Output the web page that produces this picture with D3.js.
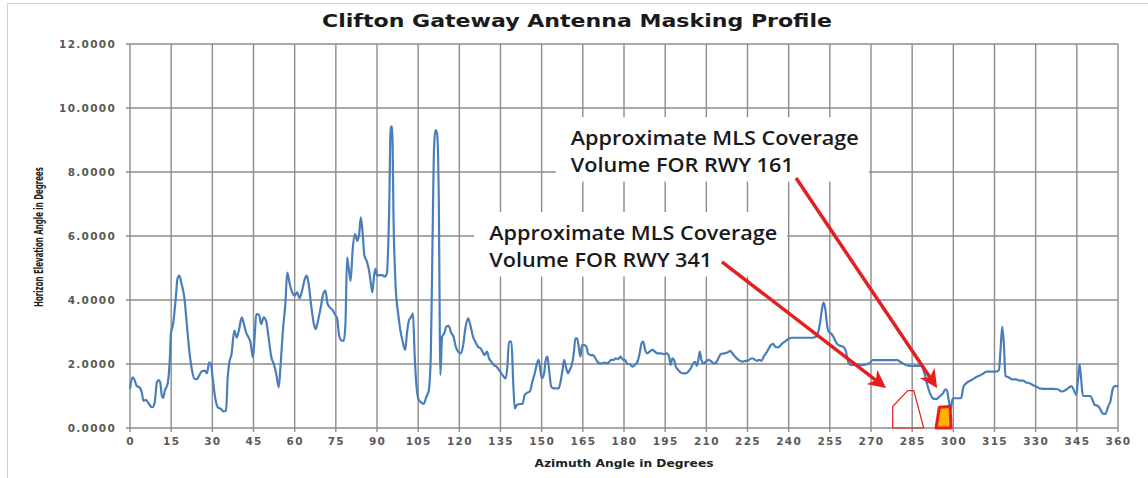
<!DOCTYPE html>
<html>
<head>
<meta charset="utf-8">
<script src="https://cdn.jsdelivr.net/npm/d3@7"></script>
<style>
  html, body { margin: 0; padding: 0; background: #fff; }
  figure { margin: 0; }
  svg { display: block; }
</style>
</head>
<body>
<figure id="masking"></figure>
<script>
// horizon profile, azimuth (deg) vs elevation (deg)
const azimuth = [
  0, 0.9, 1.5, 2.4, 3.7, 4.3, 4.9, 5.7, 6.6, 7.6, 8.2, 9.0, 9.8, 10.4, 11.0, 11.6, 12.1, 12.7, 13.7, 14.6,
  14.9, 15.7, 16.7, 17.3, 18.0, 18.8, 19.8, 20.7, 21.6, 22.4, 23.4, 24.4, 25.2, 26.2, 27.3, 28.0, 28.9, 29.5, 30.1, 31.0,
  32.0, 33.2, 34.0, 35.0, 35.6, 36.2, 37.0, 38.0, 38.9, 39.9, 40.7, 41.5, 42.3, 43.2, 43.9, 44.8, 45.4, 46.0, 47.0, 47.8,
  48.7, 49.6, 50.5, 51.5, 52.4, 53.3, 54.2, 54.9, 55.7, 56.6, 57.3, 58.2, 59.1, 60.0, 60.9, 61.8, 62.7, 63.7, 64.4, 65.1,
  66.1, 67.0, 67.6, 68.5, 69.5, 70.4, 71.2, 72.0, 72.8, 73.8, 74.6, 75.5, 76.2, 77.1, 77.9, 78.5, 79.1, 79.8, 80.4, 81.1,
  82.0, 82.8, 83.5, 84.1, 84.8, 85.4, 86.2, 87.1, 87.8, 88.3, 89.0, 89.5, 90.0, 91.0, 91.9, 92.8, 93.6, 94.4, 95.0, 95.5,
  96.1, 96.8, 97.7, 98.5, 99.5, 100.3, 100.9, 101.7, 102.5, 103.1, 103.7, 104.3, 105.2, 106.2, 107.0, 108.0, 108.8, 109.6, 110.2, 110.8,
  111.3, 111.9, 112.5, 113.1, 113.7, 114.5, 115.3, 116.1, 117.1, 117.9, 118.7, 119.5, 120.4, 121.3, 122.3, 123.2, 124.0, 125.0, 125.8, 126.8,
  127.7, 128.4, 129.2, 130.1, 130.8, 131.7, 132.5, 133.5, 134.5, 135.3, 136.2, 136.9, 137.5, 138.1, 139.0, 139.6, 140.2, 141.0, 142.0, 143.0,
  143.8, 144.7, 145.7, 146.6, 147.5, 148.3, 148.9, 149.5, 150.1, 150.9, 151.5, 152.1, 152.7, 153.5, 154.4, 155.4, 156.2, 157.0, 157.6, 158.2,
  158.8, 159.6, 160.2, 160.8, 161.7, 162.3, 162.9, 163.5, 164.1, 164.7, 165.5, 166.3, 166.9, 167.8, 168.7, 169.6, 170.3, 171.2, 172.0, 173.0,
  173.8, 174.6, 175.4, 176.3, 177.0, 177.9, 178.7, 179.7, 180.4, 181.2, 182.1, 183.0, 184.0, 184.9, 185.7, 186.4, 187.0, 187.7, 188.5, 189.4,
  190.3, 191.2, 192.2, 193.4, 194.6, 195.6, 196.4, 197.0, 197.6, 198.2, 198.9, 199.8, 200.7, 201.5, 202.5, 203.4, 204.3, 205.2, 205.9, 206.5,
  207.1, 207.6, 208.2, 209.0, 209.8, 210.8, 211.6, 212.6, 213.5, 214.4, 215.3, 216.5, 217.7, 218.7, 219.5, 220.5, 221.4, 222.2, 223.2, 224.2,
  225.0, 226.0, 226.8, 227.7, 228.4, 229.3, 230.1, 230.9, 231.7, 232.6, 233.5, 234.4, 235.1, 236.0, 236.8, 237.8, 238.6, 239.4, 240.2, 241.4,
  244.0, 248.7, 250.0, 250.8, 251.5, 252.1, 252.7, 253.4, 253.9, 254.6, 255.4, 256.3, 257.3, 258.2, 259.1, 259.9, 260.7, 261.3, 261.9, 262.7,
  266.4, 269.4, 270.6, 279.7, 280.6, 281.6, 282.8, 284.6, 288.2, 289.5, 290.5, 291.5, 292.5, 293.7, 294.9, 296.2, 297.1, 297.7, 298.3, 299.0,
  299.6, 300.0, 302.8, 303.7, 304.7, 305.9, 307.1, 308.1, 309.3, 310.8, 312.0, 315.6, 316.6, 317.2, 317.8, 318.4, 319.0, 320.3, 321.5, 322.9,
  324.1, 325.4, 326.6, 327.8, 329.0, 330.3, 331.4, 333.9, 336.3, 338.1, 339.4, 340.6, 341.8, 343.0, 343.9, 344.8, 345.4, 346.0, 346.6, 347.2,
  349.9, 350.7, 351.5, 352.7, 353.7, 354.6, 355.4, 356.4, 357.2, 358.0, 358.8, 360.0
];
const elevation = [
  1.22, 1.58, 1.53, 1.32, 1.25, 1.11, 0.85, 0.88, 0.80, 0.67, 0.65, 0.80, 1.43, 1.50, 1.43, 1.01, 0.94, 1.17, 1.38, 2.31,
  2.94, 3.25, 4.08, 4.66, 4.76, 4.50, 4.08, 3.25, 2.42, 1.90, 1.55, 1.53, 1.64, 1.77, 1.79, 1.71, 2.05, 2.00, 1.58, 0.96,
  0.65, 0.59, 0.52, 0.54, 1.58, 2.05, 2.31, 3.04, 2.83, 3.15, 3.46, 3.25, 2.99, 2.83, 2.68, 2.21, 2.83, 3.56, 3.54, 3.25,
  3.46, 3.35, 2.83, 2.21, 2.00, 1.69, 1.27, 2.00, 3.04, 3.88, 4.86, 4.50, 4.24, 4.14, 4.24, 4.06, 4.29, 4.66, 4.76, 4.50,
  3.77, 3.25, 3.09, 3.35, 3.77, 4.19, 4.29, 3.88, 3.77, 3.69, 3.56, 3.41, 2.89, 2.73, 2.73, 3.25, 5.33, 4.92, 4.60, 5.54,
  6.06, 5.85, 6.06, 6.58, 6.06, 5.39, 5.23, 4.92, 4.50, 4.24, 4.81, 4.97, 4.76, 4.78, 4.78, 4.73, 4.83, 6.70, 9.42, 9.42,
  6.19, 4.42, 3.58, 3.06, 2.65, 2.44, 2.96, 3.38, 3.48, 3.58, 2.33, 1.40, 0.88, 0.79, 0.75, 0.98, 1.14, 2.23, 5.67, 8.79,
  9.31, 9.21, 7.23, 1.66, 2.85, 2.96, 3.17, 3.19, 2.96, 2.85, 2.54, 2.39, 2.33, 2.54, 3.17, 3.43, 3.22, 2.85, 2.70, 2.54,
  2.49, 2.39, 2.28, 2.39, 2.18, 2.07, 1.97, 1.92, 1.81, 1.71, 1.60, 1.55, 1.92, 2.70, 2.70, 1.50, 0.61, 0.72, 0.75, 0.75,
  1.03, 1.10, 1.14, 1.45, 1.71, 2.02, 2.13, 1.81, 1.55, 1.71, 2.13, 2.23, 1.81, 1.29, 1.24, 1.24, 1.24, 1.50, 1.81, 2.13,
  1.92, 1.71, 1.81, 1.92, 2.33, 2.80, 2.80, 2.54, 2.23, 2.59, 2.59, 2.54, 2.33, 2.28, 2.28, 2.18, 2.07, 2.02, 2.02, 2.04,
  2.02, 2.07, 2.13, 2.13, 2.18, 2.15, 2.23, 2.13, 2.13, 2.00, 2.00, 1.92, 1.97, 2.07, 2.33, 2.65, 2.70, 2.44, 2.33, 2.39,
  2.44, 2.39, 2.33, 2.33, 2.31, 2.33, 2.23, 1.97, 2.18, 2.13, 1.92, 1.81, 1.73, 1.71, 1.71, 1.76, 1.86, 2.02, 2.07, 1.94,
  2.13, 2.39, 2.13, 2.02, 2.07, 2.13, 2.10, 2.02, 2.04, 2.18, 2.31, 2.33, 2.36, 2.41, 2.33, 2.23, 2.15, 2.10, 2.07, 2.10,
  2.10, 2.16, 2.18, 2.13, 2.10, 2.13, 2.10, 2.23, 2.33, 2.46, 2.59, 2.63, 2.54, 2.52, 2.56, 2.65, 2.70, 2.75, 2.80, 2.82,
  2.82, 2.82, 2.85, 3.01, 3.32, 3.69, 3.92, 3.69, 3.27, 3.01, 2.96, 2.85, 2.67, 2.59, 2.56, 2.54, 2.44, 2.23, 2.02, 1.97,
  1.97, 2.02, 2.12, 2.12, 2.07, 2.02, 1.97, 1.94, 1.94, 1.70, 1.35, 1.08, 0.93, 0.90, 0.98, 1.08, 1.21, 1.17, 0.88, 0.56,
  0.88, 0.93, 0.93, 1.29, 1.40, 1.47, 1.52, 1.58, 1.63, 1.69, 1.76, 1.76, 1.81, 2.44, 3.17, 2.65, 1.63, 1.58, 1.52, 1.52,
  1.48, 1.48, 1.42, 1.40, 1.34, 1.29, 1.24, 1.22, 1.22, 1.21, 1.14, 1.17, 1.24, 1.31, 1.19, 1.03, 1.50, 2.00, 1.50, 1.00,
  1.00, 0.88, 0.72, 0.69, 0.56, 0.44, 0.44, 0.67, 0.82, 1.19, 1.31, 1.31
];

const xTickValues = [0, 15, 30, 45, 60, 75, 90, 105, 120, 135, 150, 165, 180, 195, 210, 225, 240, 255, 270, 285, 300, 315, 330, 345, 360];
const yTickValues = [0, 2, 4, 6, 8, 10, 12];

// approximate MLS coverage volumes as [azimuth, elevation] outlines
const rwy341Volume = [[277.9, 0], [277.9, 0.67], [283.4, 1.17], [285.6, 1.17], [289.2, 0]];
const rwy161Volume = [[293.7, 0], [294.9, 0.65], [298.8, 0.67], [299.2, 0]];

// callouts: text, text anchor and arrow, all in azimuth/elevation units
const calloutText = [
  ["Approximate MLS Coverage", "Volume FOR RWY 161"],
  ["Approximate MLS Coverage", "Volume FOR RWY 341"]
];
const calloutAnchor = [[160.6, 8.84], [130.9, 5.875]];
const arrowFrom = [[242.7, 7.81], [215.7, 5.19]];
const arrowTo = [[294.1, 1.25], [275.5, 1.25]];

class MaskingChart {
  constructor() {
    this.width = 1148;
    this.height = 478;
    this.margin = { top: 44, right: 30, bottom: 50, left: 130 };
    this.gridColor = "#8c8c8c";
    this.lineColor = "#4a7ebb";
    this.red = "#e51f1f";
    this.labelColor = "#595959";
  }

  init() {
    this.svg = d3.select("figure#masking").append("svg")
      .attr("width", this.width)
      .attr("height", this.height);
    this.x = d3.scaleLinear()
      .domain([0, 360])
      .range([this.margin.left, this.width - this.margin.right]);
    this.y = d3.scaleLinear()
      .domain([0, 12])
      .range([this.height - this.margin.bottom, this.margin.top]);
  }

  draw() {
    this.drawFrame();
    this.drawGrid();
    this.drawAxes();
    this.drawCallouts();
    this.drawProfile();
    this.drawVolumes();
    this.drawArrows();
  }

  drawFrame() {
    // only the top and left edge of the chart border are inside the picture
    this.svg.append("rect")
      .attr("x", 7.5).attr("y", 3.5)
      .attr("width", this.width + 20).attr("height", this.height + 20)
      .attr("fill", "none")
      .attr("stroke", "#d4d4d4");

    this.svg.append("text")
      .attr("x", 577)
      .attr("y", 27)
      .attr("text-anchor", "middle")
      .attr("textLength", 510)
      .attr("lengthAdjust", "spacingAndGlyphs")
      .style("font-family", "'DejaVu Sans', Verdana, sans-serif")
      .style("font-weight", "bold")
      .style("font-size", "17px")
      .attr("fill", "#1a1a1a")
      .text("Clifton Gateway Antenna Masking Profile");
  }

  drawGrid() {
    const [x0, x1] = this.x.range();
    const [yb, yt] = this.y.range();
    const g = this.svg.append("g").attr("class", "grid");
    g.selectAll("line.v")
      .data(xTickValues).enter()
      .append("line")
      .attr("x1", (d) => this.x(d)).attr("x2", (d) => this.x(d))
      .attr("y1", yt).attr("y2", yb + 4)
      .attr("stroke", this.gridColor)
      .attr("stroke-width", 1.4);
    g.selectAll("line.h")
      .data(yTickValues).enter()
      .append("line")
      .attr("x1", x0 - 4).attr("x2", x1)
      .attr("y1", (d) => this.y(d)).attr("y2", (d) => this.y(d))
      .attr("stroke", this.gridColor)
      .attr("stroke-width", 1.4);
  }

  drawAxes() {
    const xAxis = d3.axisBottom(this.x)
      .tickValues(xTickValues)
      .tickSize(0)
      .tickPadding(10);
    const yAxis = d3.axisLeft(this.y)
      .tickValues(yTickValues)
      .tickFormat(d3.format(".4f"))
      .tickSize(0)
      .tickPadding(14);

    const gx = this.svg.append("g")
      .attr("transform", `translate(0,${this.y(0)})`)
      .call(xAxis);
    const gy = this.svg.append("g")
      .attr("transform", `translate(${this.x(0)},0)`)
      .call(yAxis);

    [gx, gy].forEach((g) => {
      g.select(".domain").remove();
      g.selectAll("text")
        .attr("fill", this.labelColor)
        .style("font-family", "'DejaVu Sans', Verdana, sans-serif")
        .style("font-weight", "bold")
        .style("font-size", "10.5px")
        .style("letter-spacing", "1.3px");
    });

    this.svg.append("text")
      .attr("x", (this.x(0) + this.x(360)) / 2)
      .attr("y", 467)
      .attr("text-anchor", "middle")
      .attr("textLength", 179)
      .attr("lengthAdjust", "spacingAndGlyphs")
      .style("font-family", "'DejaVu Sans Condensed', 'DejaVu Sans', sans-serif")
      .style("font-weight", "bold")
      .style("font-size", "11px")
      .attr("fill", "#222")
      .text("Azimuth Angle in Degrees");

    this.svg.append("text")
      .attr("transform", "translate(43,237) rotate(-90)")
      .attr("text-anchor", "middle")
      .attr("textLength", 140)
      .attr("lengthAdjust", "spacingAndGlyphs")
      .style("font-family", "'DejaVu Sans Condensed', 'DejaVu Sans', sans-serif")
      .style("font-weight", "bold")
      .style("font-size", "11.5px")
      .attr("fill", "#222")
      .text("Horizon Elevation Angle in Degrees");
  }

  drawCallouts() {
    calloutText.forEach((lines, i) => {
      const g = this.svg.append("g");
      const [az, el] = calloutAnchor[i];
      const text = g.append("text")
        .attr("x", this.x(az))
        .attr("y", this.y(el))
        .style("font-family", "'Open Sans', sans-serif")
        .style("font-weight", 600)
        .style("font-size", "19px")
        .attr("fill", "#1a1a1a");
      text.selectAll("tspan")
        .data(lines).enter()
        .append("tspan")
        .attr("x", this.x(az))
        .attr("dy", (d, j) => j === 0 ? 0 : 26.5)
        .text((d) => d);

      // stretch to the width the labels have in the original
      const natural = text.select("tspan").node().getComputedTextLength();
      const stretch = 288 / natural;
      text.selectAll("tspan").each(function () {
        d3.select(this)
          .attr("textLength", this.getComputedTextLength() * stretch)
          .attr("lengthAdjust", "spacingAndGlyphs");
      });

      const box = text.node().getBBox();
      g.insert("rect", "text")
        .attr("x", box.x - 15)
        .attr("y", box.y - 8)
        .attr("width", box.width + 25)
        .attr("height", box.height + 12)
        .attr("fill", "#fff");
    });
  }

  drawProfile() {
    const line = d3.line()
      .x((d) => this.x(d[0]))
      .y((d) => this.y(d[1]))
      .curve(d3.curveMonotoneX);
    this.svg.append("path")
      .datum(d3.zip(azimuth, elevation))
      .attr("d", line)
      .attr("fill", "none")
      .attr("stroke", this.lineColor)
      .attr("stroke-width", 2.2)
      .attr("stroke-linejoin", "round");
  }

  drawVolumes() {
    const outline = d3.line()
      .x((d) => this.x(d[0]))
      .y((d) => this.y(d[1]));
    this.svg.append("path")
      .attr("d", outline(rwy341Volume) + "Z")
      .attr("fill", "none")
      .attr("stroke", this.red)
      .attr("stroke-width", 1.2);
    this.svg.append("path")
      .attr("d", outline(rwy161Volume) + "Z")
      .attr("fill", "#ffb000")
      .attr("stroke", this.red)
      .attr("stroke-width", 3)
      .attr("stroke-linejoin", "round");
  }

  drawArrows() {
    this.svg.append("defs").append("marker")
      .attr("id", "arrowhead")
      .attr("markerUnits", "userSpaceOnUse")
      .attr("markerWidth", 20).attr("markerHeight", 18)
      .attr("refX", 18).attr("refY", 9)
      .attr("orient", "auto")
      .append("path")
      .attr("d", "M0,0 L18,9 L0,18 L5,9 Z")
      .attr("fill", this.red);

    arrowFrom.forEach((from, i) => {
      const x1 = this.x(from[0]), y1 = this.y(from[1]);
      const x2 = this.x(arrowTo[i][0]), y2 = this.y(arrowTo[i][1]);
      const len = Math.hypot(x2 - x1, y2 - y1);
      // stop the shaft inside the head so the tip stays sharp
      const k = (len - 9) / len;
      this.svg.append("line")
        .attr("x1", x1).attr("y1", y1)
        .attr("x2", x1 + (x2 - x1) * k).attr("y2", y1 + (y2 - y1) * k)
        .attr("stroke", this.red)
        .attr("stroke-width", 3.5);
      this.svg.append("line")
        .attr("x1", x2 - (x2 - x1) / len).attr("y1", y2 - (y2 - y1) / len)
        .attr("x2", x2).attr("y2", y2)
        .attr("stroke", "none")
        .attr("marker-end", "url(#arrowhead)");
    });
  }
}

const maskingChart = new MaskingChart();
maskingChart.init();
maskingChart.draw();
</script>
</body>
</html>
